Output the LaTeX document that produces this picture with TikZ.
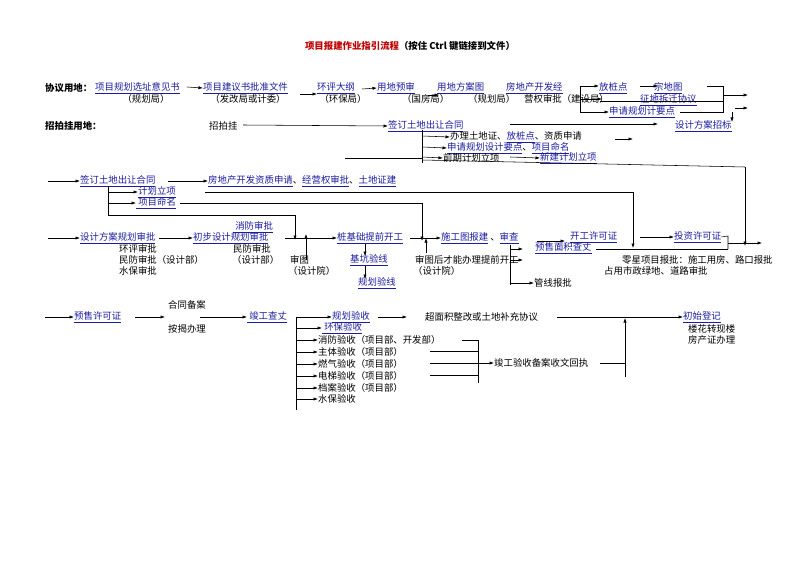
\documentclass[tikz,border=0pt]{standalone}
\usepackage{fontspec}
\setmainfont{Noto Sans CJK SC}
\usetikzlibrary{arrows.meta}
\definecolor{lb}{HTML}{1C1CA0}
\definecolor{tr}{HTML}{C00000}
\newcommand\lk[1]{\textcolor{lb}{\underline{#1}}}
\begin{document}
\begin{tikzpicture}[x=1pt,y=-1pt,
  t/.style={inner sep=0pt,anchor=west,font=\fontsize{9.4}{10}\selectfont},
  ar/.style={-{Latex[length=4.5pt,width=3.2pt]},line width=0.55pt},
  ln/.style={line width=0.55pt}]
\useasboundingbox[fill=white] (0,0) rectangle (794,561);
\node[t,anchor=center] (title) at (410,46) {\bfseries\textcolor{tr}{项目报建作业指引流程}（按住 Ctrl 键链接到文件）};
% row 1
\node[t] (xy) at (45,88) {\bfseries 协议用地：};
\node[t] (a1) at (95,88) {\lk{项目规划选址意见书}};
\node[t,anchor=center] (a1b) at (146,99) {（规划局）};
\node[t] (a2) at (203,88) {\lk{项目建议书批准文件}};
\node[t,anchor=center] (a2b) at (248,99) {（发改局或计委）};
\node[t] (a3) at (317,88) {\lk{环评大纲}};
\node[t,anchor=center] (a3b) at (343,99) {（环保局）};
\node[t] (a4) at (377,88) {\lk{用地预审}};
\node[t] (a4b) at (402,99) {（国房局）};
\node[t] (a5) at (437,88) {\lk{用地方案图}};
\node[t] (a5b) at (468,99) {（规划局）};
\node[t] (a6) at (506,88) {\lk{房地产开发经}};
\node[t] (a6b) at (524,99) {营权审批（建设局）};
\node[t] (a7) at (599,88) {\lk{放桩点}};
\node[t] (a8) at (654,88) {\lk{宗地图}};
\node[t] (a9) at (640,100) {\lk{征地拆迁协议}};
\node[t] (a10) at (609,112) {\lk{申请规划计要点}};
\node[t] (a11) at (675,126) {\lk{设计方案招标}};
\draw[ar] (187,87) -- (a2.west);
\draw[ar] (300,94) -- (a3.west|-0,94);
\draw[ar] (362,89) -- (a4.west);
\draw[ar] (428,95) -- (439,95);
\draw[ln] (595,99) -- (580,99);
\draw[ln] (580,86) -- (580,112);
\draw[ar] (580,86) -- (a7.west|-0,86);
\draw[ar] (580,99) -- (602,99);
\draw[ar] (580,112) -- (a10.west);
\draw[ar] (640,86) -- (658,86);
\draw[ln] (707,86) -- (723,86) -- (723,112) -- (680,112);
\draw[ln] (600,101) -- (723,101);
\draw[ar] (723,95) -- (748,95);
\draw[ar] (735,108) -- (748,108);
\draw[ar] (732,112) -- (732,122);
% row 2
\node[t] (zp) at (45,126) {\bfseries 招拍挂用地：};
\node[t] (b1) at (209,126) {招拍挂};
\node[t] (b2) at (388,126) {\lk{签订土地出让合同}};
\draw[ar] (243,125) -- (b2.west);
\draw[ar] (510,124) -- (658,124);
\draw[ln] (422,130) -- (422,163);
\node[t] (b3) at (450,137) {办理土地证、\lk{放桩点}、资质申请};
\node[t] (b4) at (447,148) {\lk{申请规划设计要点}、\lk{项目命名}};
\node[t] (b5) at (443,158) {前期计划立项};
\node[t] (b6) at (540,158) {\lk{新建计划立项}};
\draw[ar] (422,136) -- (b3.west);
\draw[ar] (422,147) -- (b4.west);
\draw[ar] (422,157) -- (b5.west);
\draw[ar] (510,157) -- (b6.west);
\draw[ar] (615,139) -- (633,139);
\draw[ln] (345,158) -- (422,158);
\draw[ln] (422,160) -- (745,167);
\draw[ar] (745,167) -- (745,246);
% row 3
\node[t] (c1) at (80,181) {\lk{签订土地出让合同}};
\node[t] (c2) at (208,181) {\lk{房地产开发资质申请}、\lk{经营权审批}、\lk{土地证建}};
\node[t] (c3) at (138,192) {\lk{计划立项}};
\node[t] (c4) at (136,203) {\lk{\ 项目命名}};
\draw[ar] (48,181) -- (c1.west);
\draw[ar] (168,181) -- (c2.west);
\draw[ln] (108,186) -- (108,215);
\draw[ar] (108,192) -- (c3.west);
\draw[ar] (108,203) -- (c4.west);
\draw[ln] (108,215) -- (295,215);
\draw[ar] (295,215) -- (295,240);
\draw[ln] (205,192) -- (633,192);
\draw[ar] (633,192) -- (633,248);
\draw[ln] (180,203) -- (422,203);
\draw[ar] (422,203) -- (422,241);
% row 4
\node[t] (d1) at (80,238) {\lk{设计方案规划审批}};
\node[t] (d1a) at (119,249) {环评审批};
\node[t] (d1b) at (119,260) {民防审批（设计部）};
\node[t] (d1c) at (119,271) {水保审批};
\node[t] (d2) at (193,238) {\lk{初步设计规划审批}};
\node[t] (d2a) at (233,227) {\lk{\ 消防审批}};
\node[t] (d2b) at (233,249) {民防审批};
\node[t] (d2c) at (232,260) {（设计部）};
\node[t] (d3) at (290,260) {审图};
\node[t] (d3b) at (288,271) {（设计院）};
\node[t] (d4) at (337,238) {\lk{桩基础提前开工}};
\node[t] (d5) at (350,260) {\lk{基坑验线}};
\node[t] (d6) at (358,283) {\lk{规划验线}};
\node[t] (d7) at (441,238) {\lk{施工图报建} 、\lk{审查}};
\node[t] (d8) at (415,260) {审图后才能办理提前开工};
\node[t] (d8b) at (413,271) {（设计院）};
\node[t] (d9) at (534,283) {管线报批};
\node[t] (d10) at (570,237) {\lk{开工许可证}};
\node[t] (d11) at (535,248) {\lk{预售面积查丈}};
\node[t] (d12) at (622,260) {零星项目报批：施工用房、路口报批};
\node[t] (d12b) at (604,271) {占用市政绿地、道路审批};
\node[t] (d13) at (674,237) {\lk{投资许可证}};
\draw[ar] (48,238) -- (d1.west);
\draw[ar] (159,238) -- (d2.west);
\draw[ar] (285,238) -- (d4.west);
\draw[ar] (306,260) -- (306,234);
\draw[ar] (365,244) -- (365,256);
\draw[ar] (365,266) -- (365,279);
\draw[ar] (410,238) -- (d7.west);
\draw[ar] (426,253) -- (426,238);
\draw[ln] (510,245) -- (510,285);
\draw[ar] (510,249) -- (523,249);
\draw[ar] (510,260) -- (523,260);
\draw[ar] (510,283) -- (d9.west);
\draw[ar] (537,241) -- (565,241);
\draw[ln] (596,249) -- (728,249);
\draw[ar] (640,237) -- (d13.west);
\draw[ln] (d13.east) -- (728,236) -- (728,249);
\draw[ar] (728,243) -- (762,243);
% row 5
\node[t] (e1) at (74,317) {\lk{预售许可证}};
\node[t] (e2) at (168,305) {合同备案};
\node[t] (e3) at (168,329) {按揭办理};
\node[t] (e4) at (247,317) {\lk{\ 竣工查丈}};
\draw[ar] (45,317) -- (e1.west);
\draw[ar] (135,317) -- (165,317);
\draw[ar] (200,317) -- (e4.west);
\draw[ln] (296,317) -- (296,410);
\node[t] (f1) at (332,317) {\lk{规划验收}};
\node[t] (f2) at (322,328) {\lk{\ 环保验收}};
\node[t] (f3) at (318,340) {消防验收（项目部、开发部）};
\node[t] (f4) at (318,352) {主体验收（项目部）};
\node[t] (f5) at (318,364) {燃气验收（项目部）};
\node[t] (f6) at (318,376) {电梯验收（项目部）};
\node[t] (f7) at (318,388) {档案验收（项目部）};
\node[t] (f8) at (318,399) {水保验收};
\draw[ar] (296,317) -- (f1.west);
\foreach \n/\y in {f2/328,f3/340,f4/352,f5/364,f6/376,f7/388,f8/399}
  \draw[ar] (296,\y) -- (\n.west|-0,\y);
\node[t] (g1) at (425,317) {超面积整改或土地补充协议};
\node[t] (g2) at (494,363) {竣工验收备案收文回执};
\node[t] (h1) at (683,317) {\lk{初始登记}};
\node[t] (h2) at (688,329) {楼花转现楼};
\node[t] (h3) at (688,340) {房产证办理};
\draw[ar] (378,317) -- (407,317);
\draw[ar] (557,317) -- (h1.west);
\draw[ln] (462,340) -- (478,340);
\draw[ln] (430,351) -- (478,351);
\draw[ln] (430,375) -- (478,375);
\draw[ln] (478,340) -- (478,383);
\draw[ar] (430,363) -- (g2.west);
\draw[ln] (600,363) -- (625,363);
\draw[ar] (625,377) -- (625,318);
\end{tikzpicture}
\end{document}
